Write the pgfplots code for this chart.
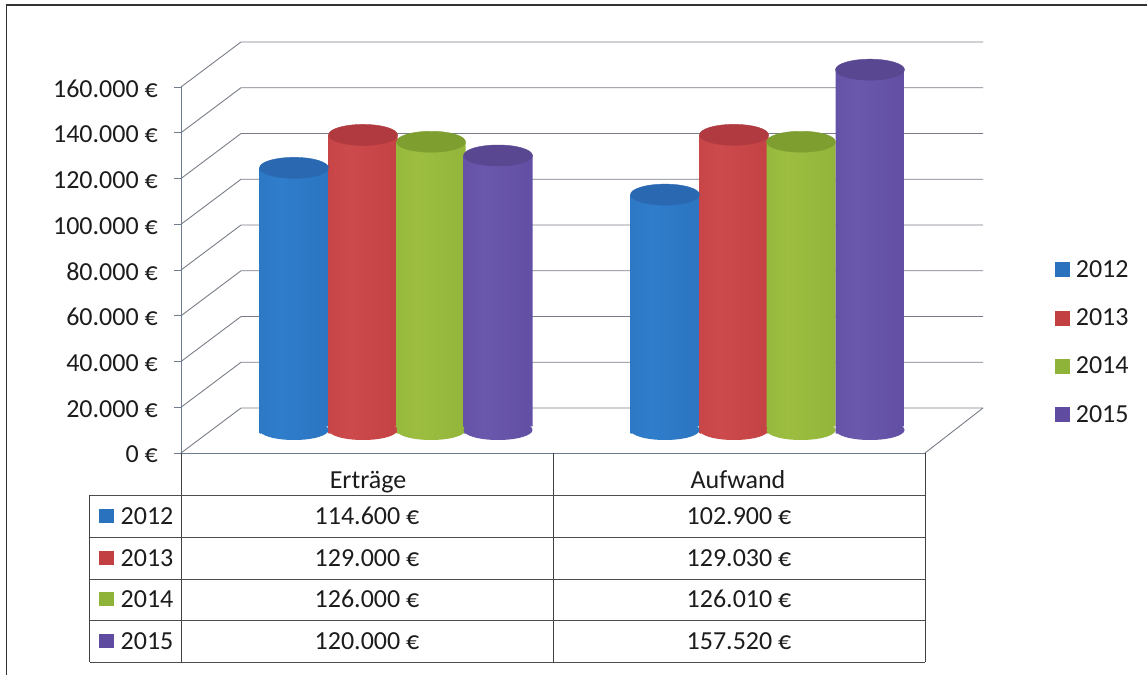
\documentclass[border=0pt]{standalone}
\usepackage{pgfplots}
\pgfplotsset{compat=1.18}
\usepackage{fontspec}
\setmainfont{Carlito}

% cylinder colours: edge, body, highlight, lid
\definecolor{bEdge}{HTML}{1B4F8E}\definecolor{bBody}{HTML}{2A72BE}\definecolor{bLite}{HTML}{2F7DCB}\definecolor{bTop}{HTML}{2A68B2}
\definecolor{rEdge}{HTML}{7E2230}\definecolor{rBody}{HTML}{C23F42}\definecolor{rLite}{HTML}{CC4A4B}\definecolor{rTop}{HTML}{B03A40}
\definecolor{gEdge}{HTML}{5F7D22}\definecolor{gBody}{HTML}{8FB338}\definecolor{gLite}{HTML}{9CBD40}\definecolor{gTop}{HTML}{7E9E30}
\definecolor{pEdge}{HTML}{2E2568}\definecolor{pBody}{HTML}{5F4CA0}\definecolor{pLite}{HTML}{6A58AC}\definecolor{pTop}{HTML}{5A4792}
\definecolor{wallc}{HTML}{777C86}
\definecolor{axisc}{HTML}{6F7C90}
\definecolor{txt}{HTML}{1C1C1C}

\newcommand{\defcyl}[1]{%
  \pgfdeclarehorizontalshading{cyl#1}{100bp}{color(0bp)=(#1Edge); color(5bp)=(#1Body); color(40bp)=(#1Lite); color(88bp)=(#1Body); color(100bp)=(#1Edge)}%
  \pgfdeclareplotmark{base#1}{\shade[shading=cyl#1,draw=none,rotate=5] (0pt,0pt) ellipse [x radius=34.5pt,y radius=10pt];}%
  \pgfdeclareplotmark{lid#1}{\fill[#1Top,rotate=5] (0pt,0pt) ellipse [x radius=34.5pt,y radius=10.5pt];}%
}
\defcyl{b}\defcyl{r}\defcyl{g}\defcyl{p}

% one cylinder: colour prefix, left edge, centre, right edge, value
\newcommand{\cyl}[5]{%
  \addplot[only marks,mark=base#1,yshift=23pt,forget plot] coordinates {(#3,0)};
  \addplot[draw=none,shade,shading=cyl#1,yshift=23pt,forget plot]
    coordinates {(#2,-1600)(#2,#5)(#4,#5)(#4,1600)} -- cycle;
  \addplot[only marks,mark=lid#1,yshift=23pt,forget plot] coordinates {(#3,#5)};
}
\newcommand{\key}[2]{%
  \addlegendimage{legend image code/.code={\fill[#1Body] (0pt,-7pt) rectangle (14pt,7pt); \path (18pt,0pt);}}
  \addlegendentry{#2}
}

\begin{document}
\begin{tikzpicture}[px/.style={shift={(-181pt,453pt)},x=1pt,y=-1pt}]
  % page, outer frame, walls of the 3D box
  \begin{scope}[px]
    \useasboundingbox (0,0) rectangle (1147,675);
    \draw[line width=1.1pt,black!80] (6.5,675) -- (6.5,5) -- (1147,5);
    \foreach \i in {0,...,8}{
      \draw[wallc,line width=0.9pt] (181,453-45.75*\i) -- (241,408-45.75*\i) -- (983,408-45.75*\i);
    }
    \draw[wallc,line width=0.9pt] (925,453) -- (983,408);
  \end{scope}

  \begin{axis}[
    width=744pt, height=366pt, scale only axis,
    xmin=181, xmax=925, ymin=0, ymax=160000,
    clip=false,
    axis y line=left, axis x line=bottom,
    axis line style={-,axisc,line width=0.9pt},
    xtick=\empty,
    ytick={0,20000,40000,60000,80000,100000,120000,140000,160000},
    yticklabels={0~€,20.000~€,40.000~€,60.000~€,80.000~€,100.000~€,120.000~€,140.000~€,160.000~€},
    tick style={axisc,line width=0.9pt},
    tick align=outside, major tick length=7pt,
    scaled y ticks=false,
    yticklabel style={font=\fontsize{26}{28}\selectfont,text=txt,xshift=-16pt,yshift=-1.5pt,inner sep=0pt},
    legend style={at={(1.2258,0.3033)},anchor=center,draw=none,fill=none,
      font=\fontsize{26}{28}\selectfont,text=txt,row sep=26pt,inner sep=0pt,
      cells={anchor=west}},
  ]
    \key{b}{2012}\key{r}{2013}\key{g}{2014}\key{p}{2015}

    \cyl{b}{259.5}{294}{328.5}{114600}
    \cyl{r}{328.5}{363}{397.5}{129000}
    \cyl{g}{396.5}{431}{465.5}{126000}
    \cyl{p}{463.5}{498}{532.5}{120000}

    \cyl{b}{630.5}{665}{699.5}{102900}
    \cyl{r}{699.5}{734}{768.5}{129030}
    \cyl{g}{766.5}{801}{835.5}{126010}
    \cyl{p}{835.5}{870}{904.5}{157520}
  \end{axis}

  % data table below the plot
  \begin{scope}[px,every node/.style={font=\fontsize{26}{28}\selectfont,text=txt,inner sep=0pt,anchor=base}]
    \draw[black!75,line width=1pt] (181,453) -- (181,662) (553,453) -- (553,662) (925,453) -- (925,662)
      (90,495) -- (90,662);
    \foreach \y in {495,537,579,620,662}{\draw[black!70,line width=1pt] (90,\y) -- (925,\y);}
    \node at (368,488) {Erträge};
    \node at (738,488) {Aufwand};
    \foreach \y/\c/\lab/\e/\a in {516/bBody/2012/114.600/102.900,558/rBody/2013/129.000/129.030,
        599/gBody/2014/126.000/126.010,641/pBody/2015/120.000/157.520}{
      \fill[\c] (99,\y-7) rectangle (114,\y+7);
      \node at (147,\y+8) {\lab};
      \node at (367,\y+8) {\e~€};
      \node at (739,\y+8) {\a~€};
    }
  \end{scope}
\end{tikzpicture}
\end{document}
